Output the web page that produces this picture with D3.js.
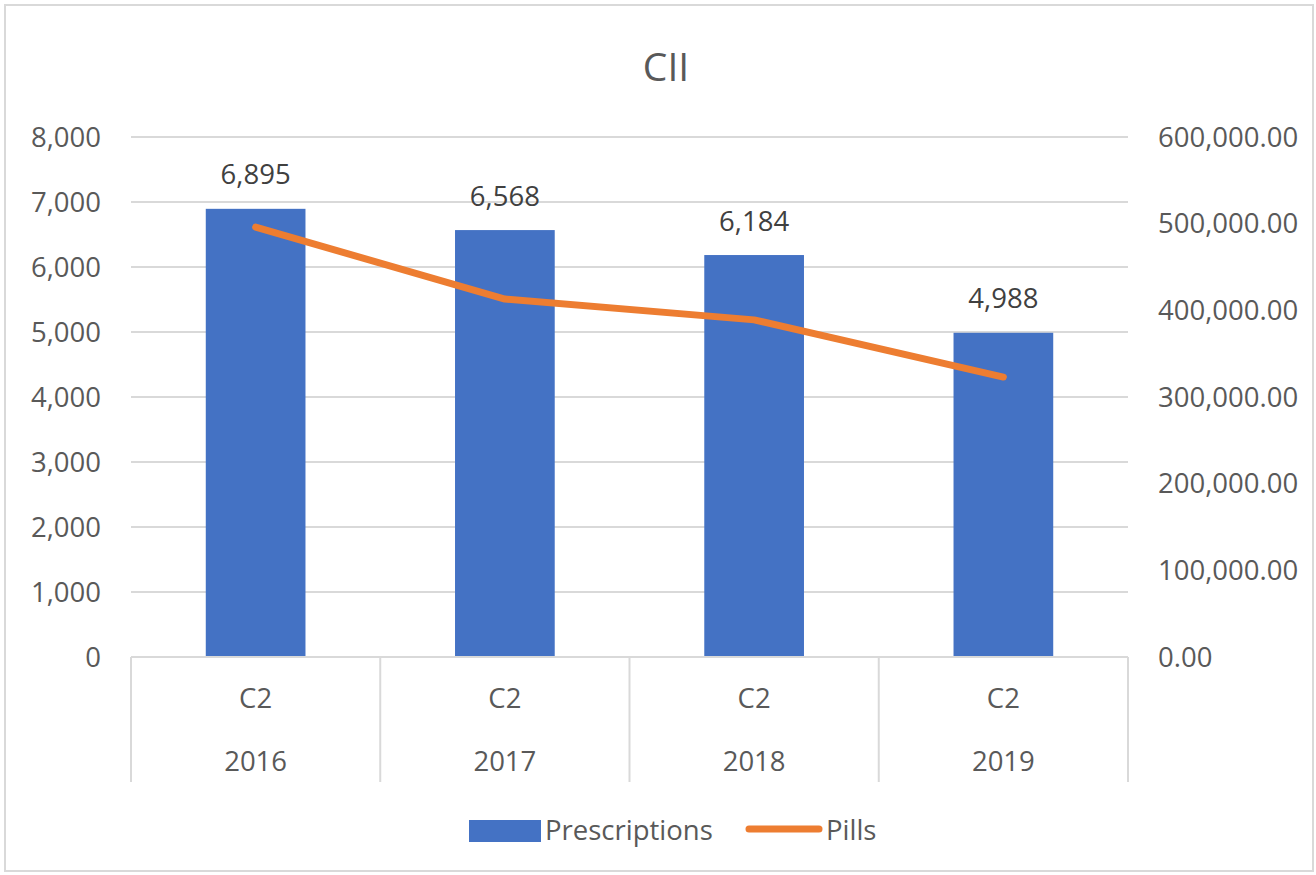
<html>
<head>
<script src="https://cdn.jsdelivr.net/npm/d3@7"></script>
<style>
  body { margin: 0; background: #fff; }
  text { font-family: "Open Sans", Lato, sans-serif; fill: #595959; }
</style>
</head>
<body>
<div id="chart"></div>
<script>
const years = ["2016", "2017", "2018", "2019"];
const classLabels = ["C2", "C2", "C2", "C2"];
const prescriptions = [6895, 6568, 6184, 4988];
const pills = [496000, 413000, 389000, 323000];
const leftTicks = [0, 1000, 2000, 3000, 4000, 5000, 6000, 7000, 8000];
const rightTicks = [0, 100000, 200000, 300000, 400000, 500000, 600000];

const w = 1316, h = 875;
const plotL = 131, plotR = 1128, plotT = 137, plotB = 657;
const fs = 27.5;

const svg = d3.select("#chart").append("svg")
  .attr("width", w).attr("height", h);

svg.append("rect")
  .attr("x", 5).attr("y", 5).attr("width", w - 8).attr("height", h - 9)
  .attr("fill", "#fff").attr("stroke", "#d9d9d9").attr("stroke-width", 2);

const x = d3.scaleBand().domain(years).range([plotL, plotR]);
const yL = d3.scaleLinear().domain([0, 8000]).range([plotB, plotT]);
const yR = d3.scaleLinear().domain([0, 600000]).range([plotB, plotT]);

// gridlines
svg.append("g").selectAll("line").data(leftTicks).join("line")
  .attr("x1", plotL).attr("x2", plotR)
  .attr("y1", d => yL(d)).attr("y2", d => yL(d))
  .attr("stroke", "#d9d9d9").attr("stroke-width", 2);

// left axis labels
const fmtL = d3.format(",");
svg.append("g").selectAll("text").data(leftTicks).join("text")
  .attr("x", 101).attr("y", d => yL(d))
  .attr("dy", "0.35em").attr("text-anchor", "end")
  .attr("font-size", fs).text(d => fmtL(d));

// right axis labels
const fmtR = d3.format(",.2f");
svg.append("g").selectAll("text").data(rightTicks).join("text")
  .attr("x", 1158).attr("y", d => yR(d))
  .attr("dy", "0.35em").attr("text-anchor", "start")
  .attr("font-size", fs).text(d => fmtR(d));

// bars
const bw = x.bandwidth() * 0.4;
svg.append("g").selectAll("rect").data(prescriptions).join("rect")
  .attr("x", (d, i) => x(years[i]) + x.bandwidth() / 2 - bw / 2)
  .attr("y", d => yL(d))
  .attr("width", bw)
  .attr("height", d => plotB - yL(d))
  .attr("fill", "#4472c4");

// data labels
svg.append("g").selectAll("text").data(prescriptions).join("text")
  .attr("x", (d, i) => x(years[i]) + x.bandwidth() / 2)
  .attr("y", d => yL(d) - 34)
  .attr("dy", "0.35em")
  .attr("text-anchor", "middle").attr("font-size", fs)
  .style("fill", "#404040")
  .text(d => fmtL(d));

// category axis
const axisG = svg.append("g");
axisG.append("line")
  .attr("x1", plotL).attr("x2", plotR).attr("y1", plotB).attr("y2", plotB)
  .attr("stroke", "#d9d9d9").attr("stroke-width", 2);
const seps = years.map(d => x(d)).concat([plotR]);
axisG.selectAll("line.sep").data(seps).join("line")
  .attr("class", "sep")
  .attr("x1", d => d).attr("x2", d => d)
  .attr("y1", plotB).attr("y2", 782)
  .attr("stroke", "#d9d9d9").attr("stroke-width", 2);
axisG.selectAll("text.cls").data(classLabels).join("text")
  .attr("class", "cls")
  .attr("x", (d, i) => x(years[i]) + x.bandwidth() / 2)
  .attr("y", 698).attr("dy", "0.35em")
  .attr("text-anchor", "middle").attr("font-size", fs).text(d => d);
axisG.selectAll("text.yr").data(years).join("text")
  .attr("class", "yr")
  .attr("x", d => x(d) + x.bandwidth() / 2)
  .attr("y", 761).attr("dy", "0.35em")
  .attr("text-anchor", "middle").attr("font-size", fs).text(d => d);

// pills line
const line = d3.line()
  .x((d, i) => x(years[i]) + x.bandwidth() / 2)
  .y(d => yR(d));
svg.append("path").datum(pills)
  .attr("d", line)
  .attr("fill", "none").attr("stroke", "#ed7d31")
  .attr("stroke-width", 7).attr("stroke-linecap", "round")
  .attr("stroke-linejoin", "round");

// title
svg.append("text")
  .attr("x", 666).attr("y", 67).attr("dy", "0.35em")
  .attr("text-anchor", "middle").attr("font-size", 39)
  .text("CII");

// legend
const lg = svg.append("g");
lg.append("rect").attr("x", 469).attr("y", 820).attr("width", 72).attr("height", 22)
  .attr("fill", "#4472c4");
lg.append("text").attr("x", 545).attr("y", 830).attr("dy", "0.35em")
  .attr("font-size", fs).text("Prescriptions");
lg.append("line").attr("x1", 749).attr("x2", 819).attr("y1", 829).attr("y2", 829)
  .attr("stroke", "#ed7d31").attr("stroke-width", 7).attr("stroke-linecap", "round");
lg.append("text").attr("x", 826).attr("y", 830).attr("dy", "0.35em")
  .attr("font-size", fs).text("Pills");
</script>
</body>
</html>
